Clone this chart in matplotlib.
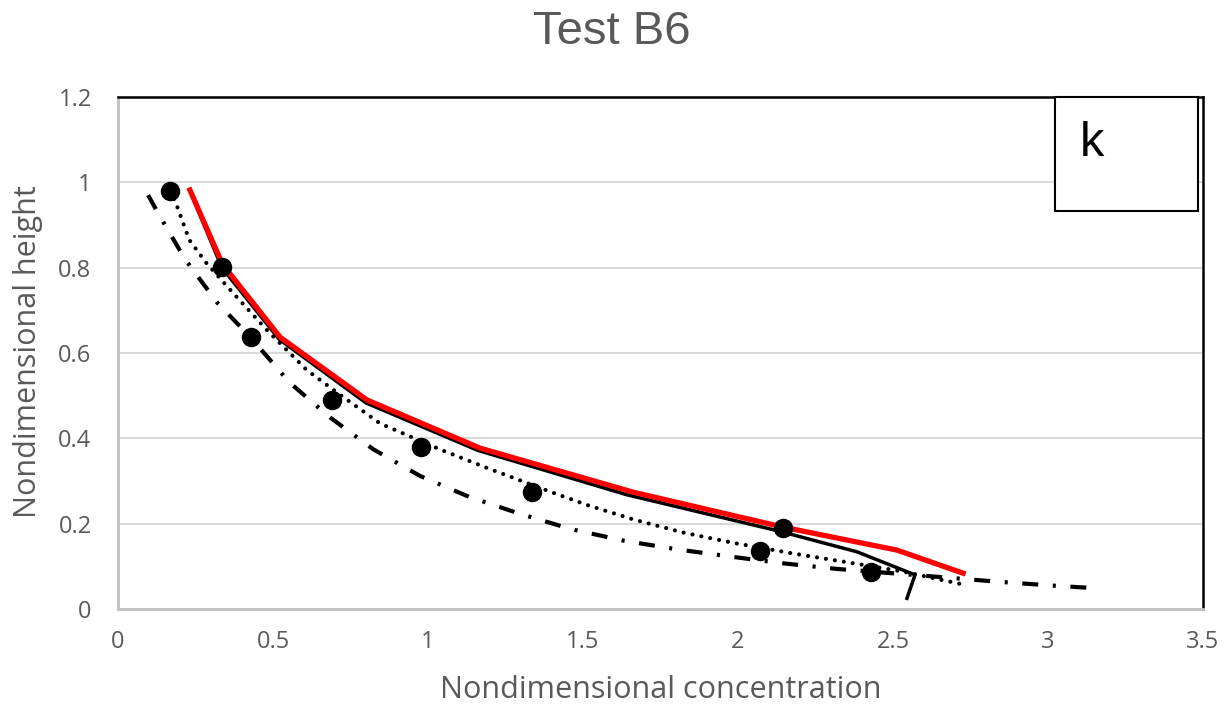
import matplotlib
matplotlib.use("Agg")
import matplotlib.pyplot as plt
from matplotlib.patches import Rectangle

plt.rcParams['lines.scale_dashes'] = False

# Measured data (black circles)
meas_x = [0.168, 0.335, 0.429, 0.690, 0.977, 1.335, 2.145, 2.071, 2.429]
meas_y = [0.980, 0.801, 0.637, 0.490, 0.380, 0.274, 0.190, 0.136, 0.087]

# Red solid model
red_x = [0.232, 0.337, 0.523, 0.803, 1.168, 1.661, 2.145, 2.513, 2.726]
red_y = [0.982, 0.808, 0.637, 0.490, 0.377, 0.274, 0.192, 0.138, 0.084]

# Black solid model
blk_x = [0.232, 0.335, 0.520, 0.800, 1.160, 1.640, 2.130, 2.384, 2.571, 2.545]
blk_y = [0.980, 0.800, 0.632, 0.483, 0.372, 0.268, 0.183, 0.134, 0.080, 0.025]

# Dotted model
dot_x = [0.168, 0.187, 0.230, 0.286, 0.372, 0.480, 0.609, 0.711, 0.845, 1.039,
         1.189, 1.394, 1.512, 1.662, 1.824, 1.985, 2.178, 2.340, 2.530, 2.716]
dot_y = [0.980, 0.951, 0.865, 0.810, 0.740, 0.654, 0.560, 0.505, 0.435, 0.374,
         0.331, 0.275, 0.244, 0.210, 0.179, 0.155, 0.130, 0.111, 0.088, 0.059]

# Dash-dot model
dd_x = [0.097, 0.130, 0.216, 0.320, 0.426, 0.553, 0.684, 0.824, 0.974, 1.132,
        1.297, 1.463, 1.632, 1.802, 1.974, 2.146, 2.318, 2.600, 2.837, 3.012, 3.125]
dd_y = [0.970, 0.927, 0.820, 0.718, 0.638, 0.531, 0.449, 0.374, 0.312, 0.263,
        0.223, 0.187, 0.160, 0.140, 0.123, 0.107, 0.094, 0.078, 0.064, 0.055, 0.050]

x_ticks = [0, 0.5, 1, 1.5, 2, 2.5, 3, 3.5]
x_ticklabels = ["0", "0.5", "1", "1.5", "2", "2.5", "3", "3.5"]
y_ticks = [0, 0.2, 0.4, 0.6, 0.8, 1.0, 1.2]
y_ticklabels = ["0", "0.2", "0.4", "0.6", "0.8", "1", "1.2"]

fig = plt.figure(figsize=(12.29, 7.08), dpi=100)
ax = fig.add_axes([118/1229, 1-609/708, (1203-118)/1229, (609-97)/708])

grey = "#595959"
for y in y_ticks[1:-1]:
    ax.axhline(y, color="#d9d9d9", lw=1.5, zorder=0)

ax.plot(dd_x, dd_y, color="black", lw=3.0, linestyle=(0, (11.5, 10.5, 2.2, 10.5)),
        dash_capstyle="butt", zorder=2)
ax.plot(dot_x, dot_y, color="black", lw=3.0, linestyle=(0, (0.01, 6.5)),
        dash_capstyle="round", zorder=2)
ax.plot(blk_x, blk_y, color="black", lw=2.5, zorder=3)
ax.plot(red_x, red_y, color="#ff0000", lw=3.8, zorder=4)
ax.plot(meas_x, meas_y, "o", color="black", markersize=13, zorder=5, linestyle="none")

ax.set_xlim(0, 3.5)
ax.set_ylim(0, 1.2)
ax.set_xticks(x_ticks)
ax.set_xticklabels(x_ticklabels)
ax.set_yticks(y_ticks)
ax.set_yticklabels(y_ticklabels)
ax.tick_params(length=0, labelsize=17, colors=grey)
ax.tick_params(axis="x", pad=15)
ax.tick_params(axis="y", pad=19)
for lab in ax.get_xticklabels() + ax.get_yticklabels():
    lab.set_family("Open Sans")

ax.spines["left"].set_color("#bfbfbf")
ax.spines["bottom"].set_color("#bfbfbf")
ax.spines["left"].set_linewidth(2)
ax.spines["bottom"].set_linewidth(2)
ax.spines["top"].set_color("black")
ax.spines["right"].set_color("black")
ax.spines["top"].set_linewidth(1.8)
ax.spines["right"].set_linewidth(1.8)

ax.set_xlabel("Nondimensional concentration", fontsize=22, color=grey,
              family="Open Sans")
ax.set_ylabel("Nondimensional height", fontsize=22, color=grey,
              family="Open Sans")
ax.xaxis.set_label_coords(661/1229, 1-690/708, transform=fig.transFigure)
ax.yaxis.set_label_coords(28/1229, 1-352/708, transform=fig.transFigure)
ax.xaxis.label.set_va("center")
ax.yaxis.label.set_va("center")

fig.text(612/1229, 1-32/708, "Test B6", ha="center", va="center", fontsize=34,
         color=grey, family="Liberation Sans")

# panel label box
box = Rectangle((1055/1229, 1-211/708), (1198-1055)/1229, (211-97)/708,
                transform=fig.transFigure, facecolor="white", edgecolor="black",
                lw=1.5, zorder=10)
fig.patches.append(box)
fig.text(1092/1229, 1-143/708, "k", ha="center", va="center", fontsize=35,
         color="black", family="Liberation Sans", zorder=11)

fig.savefig("out.png", dpi=100)
